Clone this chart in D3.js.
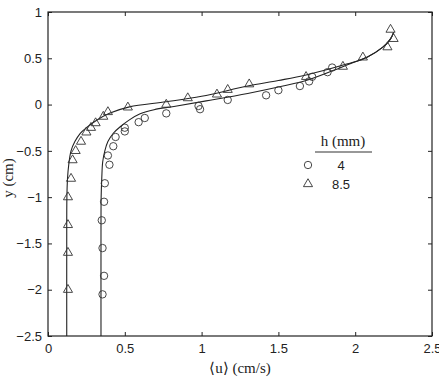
<!DOCTYPE html>
<html>
<head>
<meta charset="utf-8">
<script src="https://cdn.jsdelivr.net/npm/d3@7"></script>
<style>
  body { margin: 0; background: #fff; }
  svg text { fill: #222; }
</style>
</head>
<body>
<div id="chart"></div>
<script>
// tick values
const xTicks = [0, 0.5, 1, 1.5, 2, 2.5];
const yTicks = [1, 0.5, 0, -0.5, -1, -1.5, -2, -2.5];

// h = 4 mm (circles)
const circU = [0.355, 0.365, 0.355, 0.35, 0.365, 0.37, 0.40, 0.39, 0.425, 0.44, 0.50, 0.50, 0.59, 0.63, 0.77, 0.98, 0.99, 1.17, 1.42, 1.50, 1.64, 1.70, 1.72, 1.82, 1.85];
const circY = [-2.05, -1.85, -1.55, -1.25, -1.05, -0.85, -0.65, -0.55, -0.45, -0.35, -0.29, -0.25, -0.19, -0.145, -0.095, -0.015, -0.05, 0.05, 0.10, 0.155, 0.20, 0.25, 0.30, 0.35, 0.40];

// h = 8.5 mm (triangles)
const triU = [0.13, 0.13, 0.13, 0.13, 0.15, 0.16, 0.18, 0.215, 0.25, 0.28, 0.31, 0.36, 0.39, 0.52, 0.77, 0.91, 1.10, 1.17, 1.31, 1.68, 1.92, 2.05, 2.21, 2.23, 2.25];
const triY = [-2.0, -1.6, -1.3, -1.0, -0.8, -0.6, -0.5, -0.4, -0.3, -0.25, -0.2, -0.13, -0.08, -0.03, 0.0, 0.07, 0.11, 0.16, 0.22, 0.30, 0.41, 0.51, 0.62, 0.81, 0.71];

// model curves
const fitCircU = [0.345, 0.345, 0.346, 0.35, 0.356, 0.37, 0.39, 0.425, 0.47, 0.53, 0.6, 0.69, 0.82, 1.03, 1.3, 1.53, 1.68, 1.86, 1.95, 2.08, 2.18, 2.23, 2.25];
const fitCircY = [-2.5, -1.5, -1.0, -0.8, -0.62, -0.5, -0.4, -0.31, -0.24, -0.165, -0.1, -0.055, -0.02, 0.04, 0.12, 0.2, 0.26, 0.37, 0.43, 0.515, 0.62, 0.71, 0.78];
const fitTriU = [0.122, 0.122, 0.123, 0.127, 0.135, 0.15, 0.175, 0.21, 0.25, 0.317, 0.40, 0.53, 0.77, 1.0, 1.3, 1.5, 1.68, 1.95, 2.08, 2.18, 2.23, 2.25];
const fitTriY = [-2.5, -1.5, -1.0, -0.8, -0.65, -0.5, -0.4, -0.31, -0.25, -0.17, -0.095, -0.025, 0.03, 0.09, 0.2, 0.26, 0.32, 0.44, 0.515, 0.62, 0.71, 0.78];

const legendLabels = ["4", "8.5"];

const width = 439, height = 378;
const margin = { top: 12, right: 7, bottom: 42, left: 48 };

const svg = d3.select("#chart").append("svg")
    .attr("width", width)
    .attr("height", height);

const x = d3.scaleLinear().domain([0, 2.5]).range([margin.left, width - margin.right]);
const y = d3.scaleLinear().domain([-2.5, 1]).range([height - margin.bottom, margin.top]);

const sans = "'Liberation Sans', Arial, sans-serif";
const serif = "'Liberation Serif', 'Times New Roman', serif";

// frame with inward ticks on all sides
function styleAxis(g) {
  g.select(".domain").remove();
  g.selectAll(".tick line").attr("stroke", "#222");
  g.selectAll(".tick text").attr("font-family", sans).attr("font-size", 13);
}

svg.append("g")
  .attr("transform", `translate(0,${y(-2.5)})`)
  .call(d3.axisBottom(x).tickValues(xTicks).tickSize(-4).tickPadding(8).tickFormat(d3.format("")))
  .call(styleAxis);

svg.append("g")
  .attr("transform", `translate(0,${y(1)})`)
  .call(d3.axisTop(x).tickValues(xTicks).tickSize(-4).tickFormat(""))
  .call(styleAxis);

svg.append("g")
  .attr("transform", `translate(${x(0)},0)`)
  .call(d3.axisLeft(y).tickValues(yTicks).tickSize(-4).tickPadding(6).tickFormat(d3.format("")))
  .call(styleAxis);

svg.append("g")
  .attr("transform", `translate(${x(2.5)},0)`)
  .call(d3.axisRight(y).tickValues(yTicks).tickSize(-4).tickFormat(""))
  .call(styleAxis);

svg.append("rect")
  .attr("x", x(0)).attr("y", y(1))
  .attr("width", x(2.5) - x(0)).attr("height", y(-2.5) - y(1))
  .attr("fill", "none").attr("stroke", "#222").attr("stroke-width", 1.2);

// fitted curves
const line = d3.line()
  .x(d => x(d[0]))
  .y(d => y(d[1]))
  .curve(d3.curveCatmullRom.alpha(0.5));

[[fitCircU, fitCircY], [fitTriU, fitTriY]].forEach(([us, ys]) => {
  svg.append("path")
    .datum(us.map((u, i) => [u, ys[i]]))
    .attr("d", line)
    .attr("fill", "none")
    .attr("stroke", "#222")
    .attr("stroke-width", 1.1);
});

// markers
const tri = d3.symbol().type(d3.symbolTriangle).size(36);

svg.append("g").selectAll("circle")
  .data(circU.map((u, i) => [u, circY[i]]))
  .enter().append("circle")
  .attr("cx", d => x(d[0]))
  .attr("cy", d => y(d[1]))
  .attr("r", 3.7)
  .attr("fill", "none")
  .attr("stroke", "#333")
  .attr("stroke-width", 0.9);

svg.append("g").selectAll("path")
  .data(triU.map((u, i) => [u, triY[i]]))
  .enter().append("path")
  .attr("d", tri)
  .attr("transform", d => `translate(${x(d[0])},${y(d[1])})`)
  .attr("fill", "none")
  .attr("stroke", "#333")
  .attr("stroke-width", 0.9);

// axis labels
svg.append("text")
  .attr("x", 240).attr("y", 373)
  .attr("text-anchor", "middle")
  .attr("font-family", serif).attr("font-size", 15)
  .text("\u27E8u\u27E9 (cm/s)");

svg.append("text")
  .attr("transform", "translate(13,178) rotate(-90)")
  .attr("text-anchor", "middle")
  .attr("font-family", serif).attr("font-size", 15)
  .text("y (cm)");

// legend
const legend = svg.append("g");
legend.append("text")
  .attr("x", 343).attr("y", 146)
  .attr("text-anchor", "middle")
  .attr("font-family", serif).attr("font-size", 15)
  .text("h (mm)");
legend.append("line")
  .attr("x1", 315).attr("x2", 372).attr("y1", 152).attr("y2", 152)
  .attr("stroke", "#333").attr("stroke-width", 1.2);

legend.append("circle")
  .attr("cx", 308).attr("cy", 165).attr("r", 3.7)
  .attr("fill", "none").attr("stroke", "#333").attr("stroke-width", 0.9);
legend.append("path")
  .attr("d", tri)
  .attr("transform", "translate(308,184)")
  .attr("fill", "none").attr("stroke", "#333").attr("stroke-width", 0.9);

legend.selectAll("text.lab")
  .data(legendLabels)
  .enter().append("text")
  .attr("class", "lab")
  .attr("x", 341)
  .attr("y", (d, i) => 170 + i * 19)
  .attr("text-anchor", "middle")
  .attr("font-family", sans).attr("font-size", 13)
  .text(d => d);
</script>
</body>
</html>
